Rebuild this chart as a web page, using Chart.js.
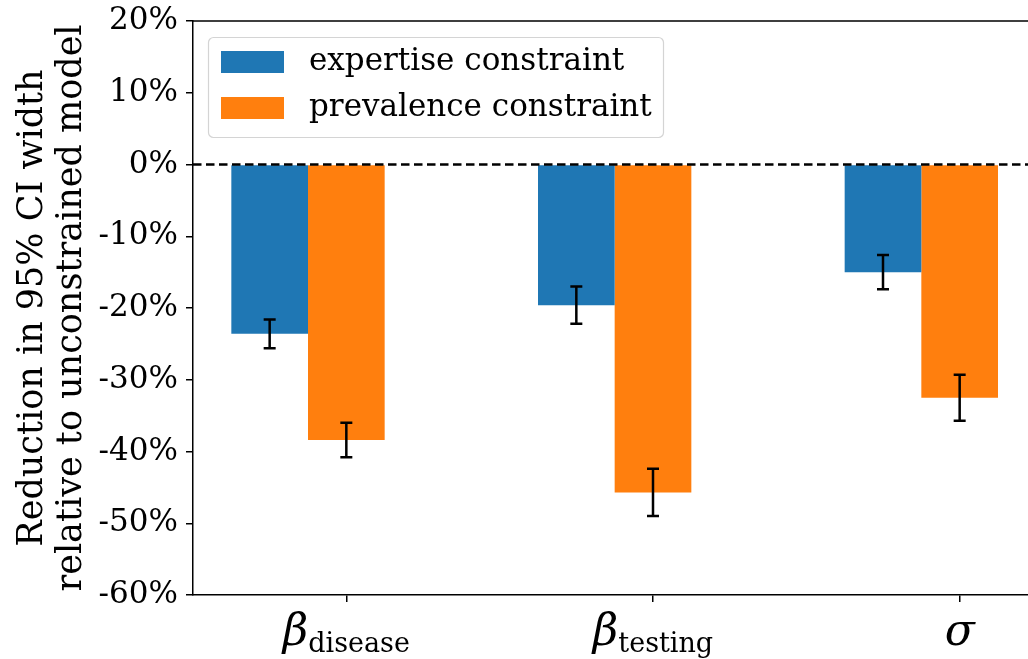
<!DOCTYPE html>
<html>
<head>
<meta charset="utf-8">
<script src="https://cdn.jsdelivr.net/npm/chart.js@4.4.1/dist/chart.umd.min.js"></script>
<style>
  html, body { margin: 0; padding: 0; background: #ffffff; overflow: hidden; }
  #wrap { width: 1120px; height: 659px; }
</style>
</head>
<body>
<div id="wrap"><canvas id="chart" width="1120" height="659"></canvas></div>
<script>
// Parameters on the x axis: symbol plus subscript
const categories = ['β_disease', 'β_testing', 'σ'];
const tickSymbols = ['β', 'β', 'σ'];
const tickSubscripts = ['disease', 'testing', ''];

// Series (percent change in 95% CI width) and their error half-widths
const seriesNames = ['expertise constraint', 'prevalence constraint'];
const expertise = [-23.6, -19.6, -15.0];
const expertiseErr = [2.0, 2.6, 2.4];
const prevalence = [-38.4, -45.7, -32.5];
const prevalenceErr = [2.4, 3.3, 3.2];

// Y axis ticks
const yTickValues = [20, 10, 0, -10, -20, -30, -40, -50, -60];

const BLUE = '#1f77b4';
const ORANGE = '#ff7f0e';
const SERIF = '"DejaVu Serif", serif';

const errors = [expertiseErr, prevalenceErr];

// Error bars with caps, drawn through the y scale
const errorBars = {
  id: 'errorBars',
  afterDatasetsDraw(chart) {
    const { ctx, scales: { y } } = chart;
    ctx.save();
    ctx.strokeStyle = '#000';
    ctx.lineWidth = 2.5;
    errors.forEach((errs, di) => {
      const meta = chart.getDatasetMeta(di);
      const vals = chart.data.datasets[di].data;
      meta.data.forEach((bar, i) => {
        const x = bar.x;
        const top = y.getPixelForValue(vals[i] + errs[i]);
        const bot = y.getPixelForValue(vals[i] - errs[i]);
        ctx.beginPath();
        ctx.moveTo(x, top); ctx.lineTo(x, bot);
        ctx.moveTo(x - 6, top); ctx.lineTo(x + 6, top);
        ctx.moveTo(x - 6, bot); ctx.lineTo(x + 6, bot);
        ctx.stroke();
      });
    });
    ctx.restore();
  }
};

// Dashed zero reference line and the top/right frame
const frame = {
  id: 'frame',
  beforeDatasetsDraw(chart) {
    const { ctx, chartArea: a } = chart;
    ctx.save();
    ctx.strokeStyle = '#000';
    ctx.lineWidth = 1.5;
    ctx.beginPath();
    ctx.moveTo(a.left, a.top); ctx.lineTo(a.right, a.top);
    ctx.lineTo(a.right, a.bottom);
    ctx.stroke();
    ctx.restore();
  },
  afterDatasetsDraw(chart) {
    const { ctx, chartArea: a, scales: { y } } = chart;
    const y0 = y.getPixelForValue(0);
    ctx.save();
    ctx.strokeStyle = '#000';
    ctx.lineWidth = 2.5;
    ctx.setLineDash([8.5, 4.5]);
    ctx.beginPath();
    ctx.moveTo(a.left, y0); ctx.lineTo(a.right, y0);
    ctx.stroke();
    ctx.restore();
  }
};

// Category labels with math-style subscripts
const mathTicks = {
  id: 'mathTicks',
  afterDraw(chart) {
    const { ctx, scales: { x } } = chart;
    ctx.save();
    ctx.fillStyle = '#000';
    ctx.textBaseline = 'alphabetic';
    ctx.textAlign = 'left';
    tickSymbols.forEach((sym, i) => {
      const cx = x.getPixelForValue(i);
      const symFont = 'italic 44px ' + SERIF;
      const subFont = '27px ' + SERIF;
      ctx.font = symFont;
      const wSym = ctx.measureText(sym).width;
      ctx.font = subFont;
      const wSub = tickSubscripts[i] ? ctx.measureText(tickSubscripts[i]).width : 0;
      const x0 = cx - (wSym + wSub) / 2;
      ctx.font = symFont;
      ctx.fillText(sym, x0, 645);
      if (tickSubscripts[i]) {
        ctx.font = subFont;
        ctx.fillText(tickSubscripts[i], x0 + wSym, 652);
      }
    });
    ctx.restore();
  }
};

// Framed legend inside the plot area, top-left
const boxLegend = {
  id: 'boxLegend',
  afterDraw(chart) {
    const { ctx } = chart;
    const colors = [BLUE, ORANGE];
    const bx = 208.5, by = 37.5, bw = 455, bh = 100, r = 5;
    ctx.save();
    ctx.fillStyle = 'rgba(255,255,255,0.8)';
    ctx.strokeStyle = '#d4d4d4';
    ctx.lineWidth = 1.2;
    ctx.beginPath();
    ctx.roundRect(bx, by, bw, bh, r);
    ctx.fill();
    ctx.stroke();
    ctx.font = '31px ' + SERIF;
    ctx.textBaseline = 'middle';
    seriesNames.forEach((name, i) => {
      const cy = 62 + i * 46;
      ctx.fillStyle = colors[i];
      ctx.fillRect(221, cy - 11, 63, 22);
      ctx.fillStyle = '#000';
      ctx.fillText(name, 309, cy);
    });
    ctx.restore();
  }
};

new Chart(document.getElementById('chart'), {
  type: 'bar',
  data: {
    labels: categories,
    datasets: [
      { label: seriesNames[0], data: expertise, backgroundColor: BLUE },
      { label: seriesNames[1], data: prevalence, backgroundColor: ORANGE },
      // empty slot so each group sits left of its tick
      { label: '', data: categories.map(() => null), backgroundColor: 'rgba(0,0,0,0)' }
    ]
  },
  options: {
    responsive: false,
    devicePixelRatio: 1,
    animation: false,
    categoryPercentage: 0.75,
    barPercentage: 1.0,
    layout: { padding: { top: 21, right: 7, left: 0, bottom: 0 } },
    plugins: {
      legend: { display: false },
      tooltip: { enabled: false }
    },
    scales: {
      x: {
        offset: true,
        grid: { display: true, offset: false, drawOnChartArea: false, drawTicks: true, tickLength: 7, color: '#000', lineWidth: 1.5 },
        border: { display: true, color: '#000', width: 1.5 },
        ticks: { callback: () => '', font: { size: 30, family: SERIF } },
        afterFit(s) { s.height = 64; s.paddingLeft = 0; s.paddingRight = 0; }
      },
      y: {
        min: -60, max: 20,
        afterBuildTicks(s) { s.ticks = yTickValues.map(v => ({ value: v })); },
        grid: { display: true, drawOnChartArea: false, drawTicks: true, tickLength: 7, color: '#000', lineWidth: 1.5 },
        border: { display: true, color: '#000', width: 1.5 },
        ticks: {
          color: '#000',
          padding: 8,
          font: { size: 31, family: SERIF, lineHeight: 1.0 },
          callback: v => v + '%'
        },
        title: {
          display: true,
          text: ['Reduction in 95% CI width', 'relative to unconstrained model'],
          color: '#000',
          font: { size: 35, family: SERIF, lineHeight: 1.1 },
          padding: { top: 14, bottom: 0 }
        },
        afterFit(s) { s.width = 193; s.paddingTop = 0; s.paddingBottom = 0; }
      }
    }
  },
  plugins: [frame, errorBars, mathTicks, boxLegend]
});
</script>
</body>
</html>
